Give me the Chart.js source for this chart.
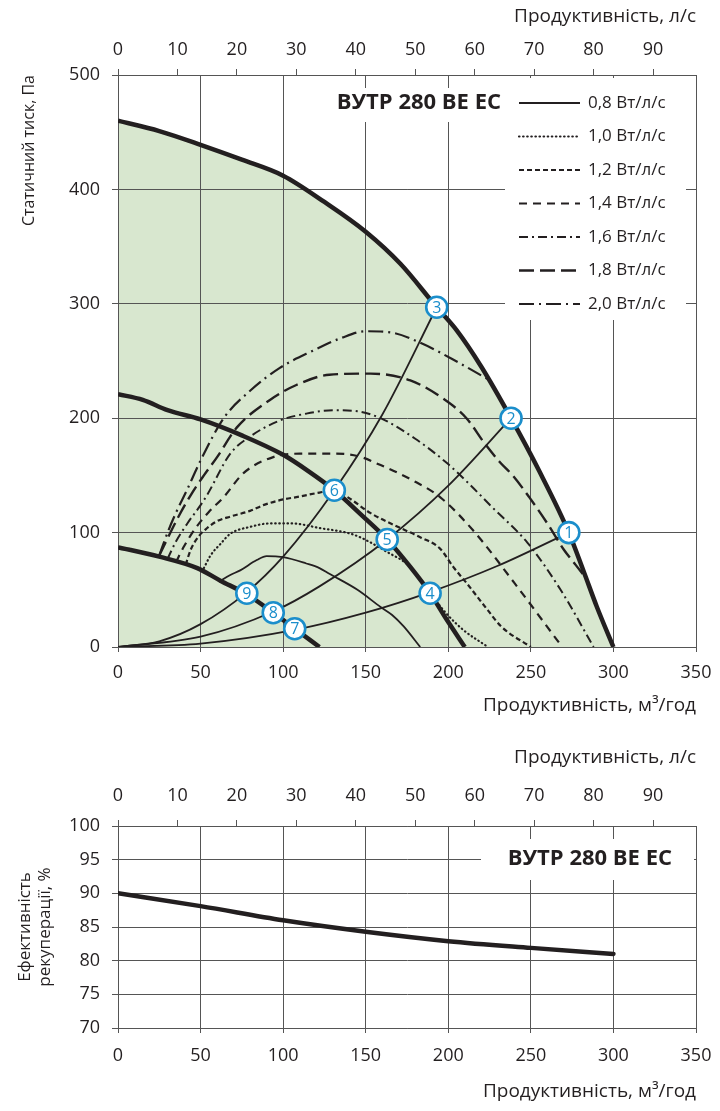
<!DOCTYPE html>
<html lang="uk">
<head>
<meta charset="utf-8">
<title>ВУТР 280 ВЕ ЕС</title>
<script src="https://cdn.jsdelivr.net/npm/chart.js@4.4.1/dist/chart.umd.min.js"></script>
<style>
    html, body { margin: 0; padding: 0; background: #ffffff; }
    canvas { position: absolute; left: 0; display: block; }
    #graficoPresion { top: 0; }
    #graficoEficiencia { top: 725px; }
</style>
</head>
<body>
<canvas id="graficoPresion" width="720" height="725"></canvas>
<canvas id="graficoEficiencia" width="720" height="386"></canvas>
<script>
// Curvas de ventilador: [м³/год, Па]
const curvaMaxima = [[0, 460], [25, 451], [50, 439], [75, 426], [100, 412], [125, 389], [150, 363], [171, 335], [193, 297], [205, 277], [220, 245], [238, 200], [255, 154], [273, 100], [282, 66], [290, 35], [300, 0]];
const curvaMedia = [[0, 221], [15, 216], [30, 207], [50, 199], [75, 185], [100, 168], [115, 154], [131, 137], [147, 116], [163, 94], [177, 70], [189, 47], [199, 24], [210, 0]];
const curvaMinima = [[0, 87], [7, 85], [25, 79], [48, 69], [62, 58], [78, 46], [94, 30], [107, 16], [122, 0]];

// Curvas de potencia especifica (Вт/л/с)
const potencia08 = [[61, 57], [68, 63], [74, 67], [84, 76], [90, 79.5], [100, 78.5], [114, 73], [122, 69], [128, 64], [145, 50], [159, 35], [166, 28], [173, 18], [183, 0]];
const potencia10 = [[52, 69], [56, 80], [62, 90], [68, 99], [80, 105], [92, 108], [105, 108], [122, 104], [143, 98], [163, 83], [177, 70], [189, 47], [199, 29], [209, 15], [224, 0]];
const potencia12 = [[41, 72], [44, 85], [49, 97], [54, 104], [60, 110], [68, 114], [80, 119], [88, 124], [100, 129], [108, 131], [122, 135], [131, 137], [139, 131], [153, 117], [171, 104], [183, 96], [195, 86], [203, 70], [211, 56], [224, 32], [232, 18], [250, 0]];
const potencia14 = [[35, 74], [40, 88], [47, 104], [55, 118], [64, 131], [76, 152], [94, 166], [110, 169], [132, 169], [145, 167], [159, 159], [178, 146], [195, 131], [215, 102], [240, 56], [269, 0]];
const potencia16 = [[30, 77], [35, 92], [42, 108], [50, 124], [54, 133], [68, 169], [80, 184], [98, 198], [114, 204], [131, 207], [145, 206], [159, 200], [180, 182], [199, 161], [213, 142], [226, 123], [248, 91], [268, 50], [288, 0]];
const potencia18 = [[25, 80], [30, 95], [37, 115], [45, 135], [52, 150], [60, 166], [72, 192], [92, 216], [108, 229], [128, 238], [153, 239], [177, 233], [197, 217], [211, 200], [222, 178], [231, 162], [239, 150], [249, 131], [260, 108], [270, 85], [277, 72], [284, 59]];
const potencia20 = [[25, 80], [30, 100], [35, 117], [42, 138], [50, 163], [64, 200], [80, 224], [98, 244], [118, 259], [135, 270], [150, 276], [165, 275], [183, 266], [207, 248], [224, 234]];
const etiquetasPotencia = ['0,8 Вт/л/с', '1,0 Вт/л/с', '1,2 Вт/л/с', '1,4 Вт/л/с', '1,6 Вт/л/с', '1,8 Вт/л/с', '2,0 Вт/л/с'];

// Caracteristicas de la red (hasta los puntos 1, 2, 3)
const redPunto1 = [[0, 0], [50, 3], [107, 15], [150, 30], [189, 48], [230, 71], [273, 100]];
const redPunto2 = [[0, 0], [50, 9], [94, 31], [122, 53], [163, 94], [200, 141], [238, 200]];
const redPunto3 = [[0, 0], [25, 5], [50, 20], [78, 48], [100, 79], [131, 137], [160, 203], [193, 297]];

// Puntos numerados
const puntosNumero = ['1', '2', '3', '4', '5', '6', '7', '8', '9'];
const puntosX = [273, 238, 193, 189, 163, 131, 107, 94, 78];
const puntosY = [100, 200, 297, 47, 94, 137, 16, 30, 47];

// Eficiencia de recuperacion, %
const eficienciaX = [0, 50, 100, 150, 200, 250, 300];
const eficienciaY = [90, 88.1, 86, 84.3, 82.9, 81.9, 81];

const modelo = 'ВУТР 280 ВЕ ЕС';
const NEGRO = '#231f20';
const GRIS = '#555555';
const VERDE = '#d8e7cf';
const AZUL = '#1b8ecb';
const FUENTE = "'Open Sans', 'DejaVu Sans', sans-serif";

const aPuntos = lista => lista.map(([x, y]) => ({ x, y }));

function lineaPotencia(datos, etiqueta, guiones, ancho) {
    return {
        label: etiqueta,
        data: aPuntos(datos),
        borderColor: NEGRO,
        borderWidth: ancho,
        borderDash: guiones,
        borderCapStyle: guiones.length && guiones[0] < 1 ? 'round' : 'butt',
        pointRadius: 0,
        cubicInterpolationMode: 'monotone',
        fill: false,
        leyenda: true
    };
}

function lineaSimple(datos, ancho) {
    return {
        data: aPuntos(datos),
        borderColor: NEGRO,
        borderWidth: ancho,
        pointRadius: 0,
        cubicInterpolationMode: 'monotone',
        fill: false
    };
}

// Caja blanca detras de textos
function cajaBlanca(ctx, x1, y1, x2, y2) {
    ctx.save();
    ctx.fillStyle = '#ffffff';
    ctx.fillRect(x1, y1, x2 - x1, y2 - y1);
    ctx.restore();
}

const pluginPresion = {
    id: 'detallesPresion',
    afterDatasetDraw(chart, args) {
        if (!chart.data.datasets[args.index].relleno) return;
        const { ctx, chartArea: a } = chart;
        // la rejilla se ve por encima de la zona verde
        chart.scales.x.drawGrid(a);
        chart.scales.y.drawGrid(a);
        cajaBlanca(ctx, a.left + 215, a.top + 13, a.right - 191, a.top + 47);
        cajaBlanca(ctx, a.right - 191, a.top + 3, a.right - 10, a.top + 245);
    },
    afterDatasetsDraw(chart) {
        const { ctx, chartArea: a } = chart;
        ctx.save();
        // titulo del modelo
        ctx.fillStyle = NEGRO;
        ctx.font = `bold 22px ${FUENTE}`;
        ctx.textAlign = 'right';
        ctx.textBaseline = 'middle';
        ctx.fillText(modelo, a.right - 195, a.top + 28);

        // leyenda de potencias
        let fila = 0;
        chart.data.datasets.forEach(ds => {
            if (!ds.leyenda) return;
            const y = a.top + 28 + fila * 33.5;
            ctx.beginPath();
            ctx.strokeStyle = ds.borderColor;
            ctx.lineWidth = ds.borderWidth;
            ctx.lineCap = ds.borderCapStyle;
            ctx.setLineDash(ds.borderDash || []);
            ctx.moveTo(a.right - 177, y);
            ctx.lineTo(a.right - 116, y);
            ctx.stroke();
            ctx.setLineDash([]);
            ctx.font = `17px ${FUENTE}`;
            ctx.textAlign = 'left';
            ctx.fillText(ds.label, a.right - 108, y);
            fila++;
        });

        // numeros dentro de los circulos
        const idx = chart.data.datasets.findIndex(ds => ds.circulos);
        const meta = chart.getDatasetMeta(idx);
        ctx.fillStyle = AZUL;
        ctx.font = `16px ${FUENTE}`;
        ctx.textAlign = 'center';
        meta.data.forEach((p, i) => {
            ctx.fillText(puntosNumero[i], p.x, p.y + 1);
        });
        ctx.restore();
    }
};

const pluginEficiencia = {
    id: 'detallesEficiencia',
    beforeDatasetsDraw(chart) {
        const { ctx, chartArea: a } = chart;
        cajaBlanca(ctx, a.left + 363, a.top + 13, a.right - 2, a.top + 54);
    },
    afterDatasetsDraw(chart) {
        const { ctx, chartArea: a } = chart;
        ctx.save();
        ctx.fillStyle = NEGRO;
        ctx.font = `bold 22px ${FUENTE}`;
        ctx.textAlign = 'right';
        ctx.textBaseline = 'middle';
        ctx.fillText(modelo, a.right - 24, a.top + 33);
        ctx.restore();
    }
};

// alto fijo del eje y sin margen extra por las etiquetas de los extremos
function fijarAlto(alto) {
    return s => {
        s.height = alto;
        s.paddingLeft = 0;
        s.paddingRight = 0;
    };
}

function ejesComunes(altoArriba, altoAbajo, pTitArriba, pTitAbajo, pTicksArriba, pTicksAbajo) {
    const fuenteTick = { family: FUENTE, size: 18 };
    const fuenteTitulo = { family: FUENTE, size: 19 };
    return {
        x: {
            type: 'linear', position: 'bottom', min: 0, max: 350,
            ticks: { stepSize: 50, color: NEGRO, font: fuenteTick, padding: pTicksAbajo },
            grid: { color: GRIS, lineWidth: 1, tickLength: 5 },
            border: { color: GRIS },
            title: { display: true, text: 'Продуктивність, м³/год', align: 'end', color: NEGRO, font: fuenteTitulo, padding: { top: 0, bottom: pTitAbajo } },
            afterFit: fijarAlto(altoAbajo)
        },
        x2: {
            type: 'linear', position: 'top', min: 0, max: 350 / 3.6,
            ticks: { stepSize: 10, includeBounds: false, color: NEGRO, font: fuenteTick, padding: pTicksArriba },
            grid: { drawOnChartArea: false, color: GRIS, tickLength: 6 },
            border: { color: GRIS },
            title: { display: true, text: 'Продуктивність, л/с', align: 'end', color: NEGRO, font: fuenteTitulo, padding: { top: pTitArriba, bottom: 0 } },
            afterFit: fijarAlto(altoArriba)
        }
    };
}

// Grafico de presion
new Chart(document.getElementById('graficoPresion'), {
    type: 'line',
    data: {
        datasets: [
            { data: aPuntos(curvaMaxima), borderWidth: 0, pointRadius: 0, cubicInterpolationMode: 'monotone', fill: 'origin', backgroundColor: VERDE, relleno: true, order: 10 },
            lineaSimple(redPunto1, 1.8),
            lineaSimple(redPunto2, 1.8),
            lineaSimple(redPunto3, 1.8),
            lineaPotencia(potencia08, etiquetasPotencia[0], [], 1.8),
            lineaPotencia(potencia10, etiquetasPotencia[1], [0.5, 3.6], 2.2),
            lineaPotencia(potencia12, etiquetasPotencia[2], [5, 3], 2.2),
            lineaPotencia(potencia14, etiquetasPotencia[3], [8, 6], 2.2),
            lineaPotencia(potencia16, etiquetasPotencia[4], [9, 4, 2, 4], 2),
            lineaPotencia(potencia18, etiquetasPotencia[5], [15, 6], 2.4),
            lineaPotencia(potencia20, etiquetasPotencia[6], [15, 5, 2, 5], 2.2),
            lineaSimple(curvaMaxima, 4.5),
            lineaSimple(curvaMedia, 4.5),
            lineaSimple(curvaMinima, 4.5),
            {
                data: puntosX.map((x, i) => ({ x, y: puntosY[i] })),
                showLine: false,
                pointRadius: 10.5,
                pointBackgroundColor: '#ffffff',
                pointBorderColor: AZUL,
                pointBorderWidth: 2.6,
                circulos: true,
                order: -1
            }
        ]
    },
    options: {
        responsive: false,
        devicePixelRatio: 1,
        animation: false,
        events: [],
        layout: { padding: { left: 0, right: 24, top: 0, bottom: 0 } },
        plugins: { legend: { display: false }, tooltip: { enabled: false } },
        scales: {
            ...ejesComunes(75, 78, 5, 8, 8, 10),
            y: {
                min: 0, max: 500,
                ticks: { stepSize: 100, color: NEGRO, font: { family: FUENTE, size: 18 }, padding: 12 },
                grid: { color: GRIS, lineWidth: 1, tickLength: 6 },
                border: { color: GRIS },
                title: { display: true, text: 'Статичний тиск, Па', align: 'end', color: NEGRO, font: { family: FUENTE, size: 16 }, padding: { top: 20, bottom: 0 } },
                afterFit: s => { s.width = 118; }
            }
        }
    },
    plugins: [pluginPresion]
});

// Grafico de eficiencia
new Chart(document.getElementById('graficoEficiencia'), {
    type: 'line',
    data: {
        datasets: [{
            data: eficienciaX.map((x, i) => ({ x, y: eficienciaY[i] })),
            borderColor: NEGRO,
            borderWidth: 4.5,
            borderCapStyle: 'round',
            pointRadius: 0,
            cubicInterpolationMode: 'monotone',
            fill: false
        }]
    },
    options: {
        responsive: false,
        devicePixelRatio: 1,
        animation: false,
        events: [],
        layout: { padding: { left: 0, right: 24, top: 0, bottom: 0 } },
        plugins: { legend: { display: false }, tooltip: { enabled: false } },
        scales: {
            ...ejesComunes(101, 83, 21, 8, 13, 12),
            y: {
                min: 70, max: 100,
                ticks: { stepSize: 5, color: NEGRO, font: { family: FUENTE, size: 18 }, padding: 12 },
                grid: { color: GRIS, lineWidth: 1, tickLength: 6 },
                border: { color: GRIS },
                title: { display: true, text: ['Ефективність', 'рекуперації, %'], align: 'center', color: NEGRO, font: { family: FUENTE, size: 17 }, padding: { top: 15, bottom: 0 } },
                afterFit: s => { s.width = 118; }
            }
        }
    },
    plugins: [pluginEficiencia]
});
</script>
</body>
</html>
